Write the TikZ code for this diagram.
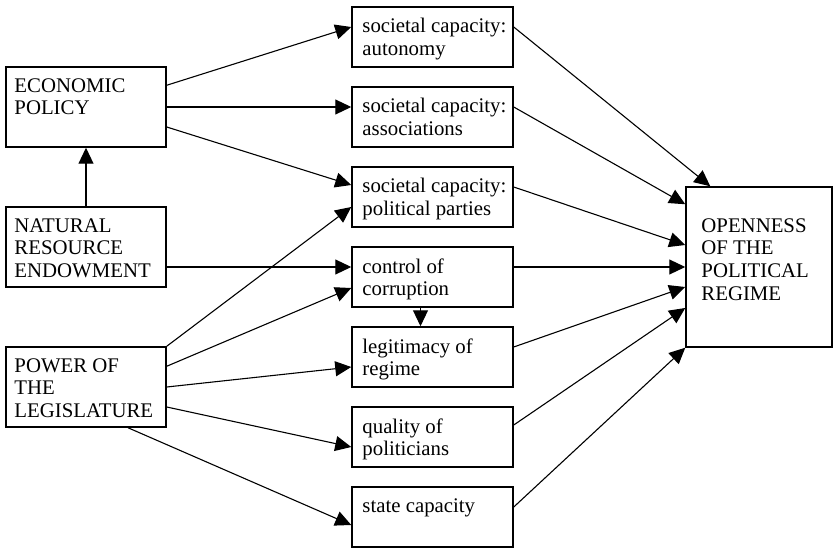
\documentclass[tikz,border=0pt]{standalone}
\usepackage{fontspec}
\setmainfont{Liberation Serif}
\usetikzlibrary{arrows.meta}

\tikzset{
    blk/.style={draw, rectangle, line width=1.5pt, inner sep=0pt, minimum width=160pt, minimum height=80pt},
    mid/.style={blk, minimum width=161pt, minimum height=60pt},
    lbl/.style={anchor=north west, inner sep=0pt, align=left, font=\fontsize{20.8}{22.7}\selectfont},
    arr/.style={line width=1.1pt, -{Triangle[length=16pt, width=15pt]}}
}

\begin{document}
\begin{tikzpicture}[x=1pt, y=-1pt]
            \useasboundingbox (0,0) rectangle (833,548);
            % left column
            \node [blk] (EP)  at (86,107) {};
            \node [blk] (NRE) at (86,247) {};
            \node [blk] (PL)  at (86,387) {};
            % middle column
            \node [mid] (SA) at (432.5,37)  {};
            \node [mid] (SB) at (432.5,117) {};
            \node [mid] (SP) at (432.5,197) {};
            \node [mid] (CC) at (432.5,277) {};
            \node [mid] (LR) at (432.5,357) {};
            \node [mid] (QP) at (432.5,437) {};
            \node [mid] (SC) at (432.5,517) {};
            % right
            \node [blk, minimum width=146pt, minimum height=160pt] (OPR) at (759,267) {};

            \node [lbl] (tEP)  at ([xshift=9pt,yshift=-12pt]EP.north west)  {ECONOMIC\\POLICY};
            \node [lbl] (tNRE) at ([xshift=9pt,yshift=-12pt]NRE.north west) {NATURAL\\RESOURCE\\ENDOWMENT};
            \node [lbl] (tPL)  at ([xshift=9pt,yshift=-12pt]PL.north west)  {POWER OF\\THE\\LEGISLATURE};
            \node [lbl] (tSA) at ([xshift=11pt,yshift=-12pt]SA.north west) {societal capacity:\\autonomy};
            \node [lbl] (tSB) at ([xshift=11pt,yshift=-12pt]SB.north west) {societal capacity:\\associations};
            \node [lbl] (tSP) at ([xshift=11pt,yshift=-12pt]SP.north west) {societal capacity:\\political parties};
            \node [lbl] (tCC) at ([xshift=11pt,yshift=-12pt]CC.north west) {control of\\corruption};
            \node [lbl] (tLR) at ([xshift=11pt,yshift=-12pt]LR.north west) {legitimacy of\\regime};
            \node [lbl] (tQP) at ([xshift=11pt,yshift=-12pt]QP.north west) {quality of\\politicians};
            \node [lbl] (tSC) at ([xshift=11pt,yshift=-12pt]SC.north west) {state capacity};
            \node [lbl] (tOPR) at ([xshift=16pt,yshift=-32pt]OPR.north west) {OPENNESS\\OF THE\\POLITICAL\\REGIME};

            % economic policy and resources
            \draw [arr] ([yshift=-19pt]EP.north east) -- ([yshift=10pt]SA.west);
            \draw [arr] (EP.east) -- ([yshift=10pt]SB.west);
            \draw [arr] ([yshift=-20pt]EP.east) -- ([yshift=12pt]SP.west);
            \draw [arr] (NRE.north) -- (EP.south);
            \draw [arr] ([yshift=-20pt]NRE.east) -- ([yshift=10pt]CC.west);
            % legislature
            \draw [arr] (PL.north east) -- ([yshift=-10pt]SP.west);
            \draw [arr] ([yshift=-20pt]PL.north east) -- ([yshift=-11pt]CC.west);
            \draw [arr] (PL.east) -- ([yshift=-10pt]LR.west);
            \draw [arr] ([yshift=-20pt]PL.east) -- ([yshift=-10pt]QP.west);
            \draw [arr] ([xshift=42pt]PL.south) -- ([yshift=-8pt]SC.west);
            \draw [arr] ([xshift=-12pt]CC.south) -- ([xshift=-12pt]LR.north);
            % into openness
            \draw [arr] ([yshift=10pt]SA.east) -- ([xshift=25pt]OPR.north west);
            \draw [arr] ([yshift=10pt]SB.east) -- ([yshift=-18pt]OPR.north west);
            \draw [arr] ([yshift=10pt]SP.east) -- ([yshift=22pt]OPR.west);
            \draw [arr] ([yshift=10pt]CC.east) -- (OPR.west);
            \draw [arr] ([yshift=10pt]LR.east) -- ([yshift=-20pt]OPR.west);
            \draw [arr] ([yshift=12pt]QP.east) -- ([yshift=-41pt]OPR.west);
            \draw [arr] ([yshift=10pt]SC.east) -- (OPR.south west);
        \end{tikzpicture}
\end{document}
